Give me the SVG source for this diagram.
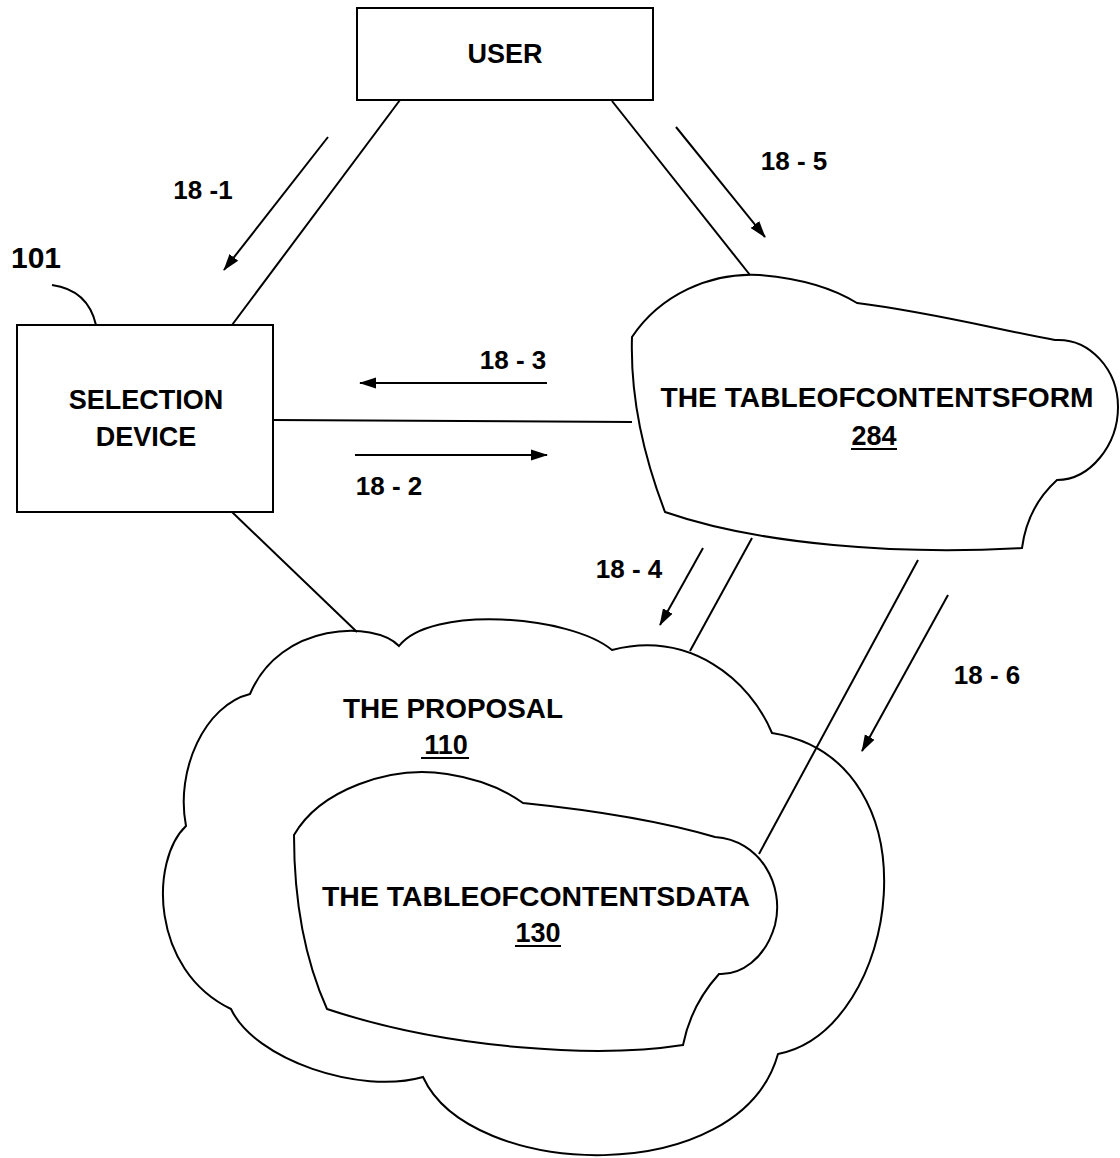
<svg xmlns="http://www.w3.org/2000/svg" width="1120" height="1158" viewBox="0 0 1120 1158">
<style>
.shape{fill:none;stroke:#000;stroke-width:2}
.ln{fill:none;stroke:#000;stroke-width:2}
.arr{fill:none;stroke:#000;stroke-width:2;marker-end:url(#ah)}
text{font-family:"Liberation Sans",Arial,sans-serif;font-weight:bold;fill:#000;text-anchor:middle}
.t{font-size:27px}
.lb{font-size:26px}
</style>
<defs>
<marker id="ah" markerUnits="userSpaceOnUse" markerWidth="18" markerHeight="14" refX="16" refY="7" orient="auto">
<path d="M0,1.5 L17,7 L0,12.5 Z" fill="#000"/>
</marker>
</defs>
<rect width="1120" height="1158" fill="#fff"/>
<g id="user">
<rect class="shape" x="357" y="8" width="296" height="92"/>
<text class="t" x="505" y="63">USER</text>
</g>
<g id="selection-device">
<rect class="shape" x="17" y="325" width="256" height="187"/>
<text class="t" x="146" y="409">SELECTION</text>
<text class="t" x="146" y="446">DEVICE</text>
<text x="36" y="268" style="font-size:30px">101</text>
<path class="ln" d="M52,285 Q88,290 96,325"/>
</g>
<g id="tableofcontentsform">
<path class="shape" d="M632,337 C660,295 710,272 760,275 Q820,280 857,303 C930,312 1000,330 1055,340 C1090,338 1118,370 1118,407 C1118,445 1090,480 1057,480 C1035,500 1025,525 1022,548 C900,555 760,545 665,512 C645,460 630,400 632,337 Z"/>
<text class="t" x="877" y="407" textLength="433" lengthAdjust="spacingAndGlyphs">THE TABLEOFCONTENTSFORM</text>
<text class="t" x="874" y="445">284</text>
<line class="ln" x1="851" y1="449" x2="897" y2="449"/>
</g>
<g id="proposal">
<path class="shape" d="M399,646 C375,620 280,622 250,694 C205,705 175,770 186,826 C150,860 150,970 231,1009 C255,1060 360,1095 423,1077 C470,1180 740,1190 778,1054 C900,1030 940,760 772,733 C750,680 690,630 612,650 C570,615 430,605 399,646 Z"/>
<text class="t" x="453" y="718" textLength="220" lengthAdjust="spacingAndGlyphs">THE PROPOSAL</text>
<text class="t" x="446" y="754">110</text>
<line class="ln" x1="421" y1="758" x2="469" y2="758"/>
</g>
<g id="tableofcontentsdata">
<path class="shape" d="M294,835 C320,790 390,765 447,774 C480,779 505,790 523,803 Q640,815 715,837 C760,840 785,885 775,925 C765,960 740,975 719,974 C700,995 688,1020 683,1045 C600,1058 450,1050 327,1009 C305,960 294,900 294,835 Z"/>
<text class="t" x="536" y="906" textLength="428" lengthAdjust="spacingAndGlyphs">THE TABLEOFCONTENTSDATA</text>
<text class="t" x="538" y="942">130</text>
<line class="ln" x1="515" y1="946" x2="561" y2="946"/>
</g>
<g id="connectors">
<line class="ln" x1="400" y1="100" x2="232" y2="325"/>
<line class="ln" x1="612" y1="101" x2="750" y2="275"/>
<line class="ln" x1="273" y1="420" x2="632" y2="422"/>
<line class="ln" x1="232" y1="512" x2="357" y2="632"/>
<line class="ln" x1="752" y1="538" x2="690" y2="651"/>
<line class="ln" x1="918" y1="560" x2="759" y2="854"/>
<line class="arr" x1="328" y1="137" x2="224" y2="270"/>
<line class="arr" x1="676" y1="127" x2="765" y2="237"/>
<line class="arr" x1="547" y1="383" x2="360" y2="383"/>
<line class="arr" x1="355" y1="455" x2="547" y2="455"/>
<line class="arr" x1="703" y1="548" x2="660" y2="625"/>
<line class="arr" x1="948" y1="595" x2="862" y2="751"/>
<text class="lb" x="203" y="199">18 -1</text>
<text class="lb" x="794" y="170">18 - 5</text>
<text class="lb" x="513" y="369">18 - 3</text>
<text class="lb" x="389" y="495">18 - 2</text>
<text class="lb" x="629" y="578">18 - 4</text>
<text class="lb" x="987" y="684">18 - 6</text>
</g>
</svg>
